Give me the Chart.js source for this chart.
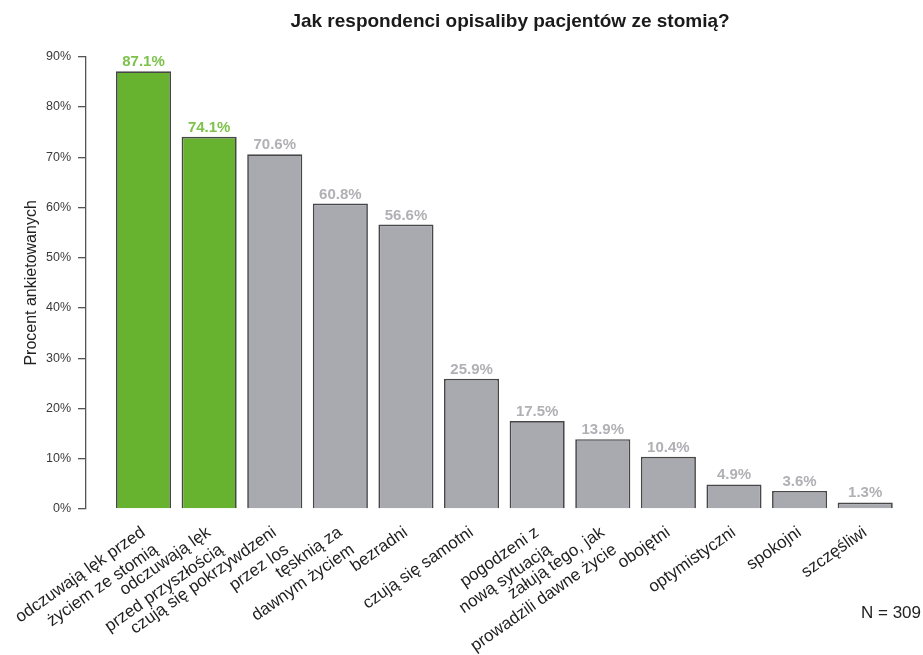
<!DOCTYPE html>
<html>
<head>
<meta charset="utf-8">
<script src="https://cdn.jsdelivr.net/npm/chart.js@4.4.1/dist/chart.umd.min.js"></script>
<style>
    html, body { margin: 0; padding: 0; background: #fff; }
</style>
</head>
<body>
<canvas id="myChart" width="923" height="655"></canvas>
<script>
// dane z wykresu
var categories = [
    ["odczuwają lęk przed", "życiem ze stomią"],
    ["odczuwają lęk", "przed przyszłością"],
    ["czują się pokrzywdzeni", "przez los"],
    ["tęsknią za", "dawnym życiem"],
    "bezradni",
    "czują się samotni",
    ["pogodzeni z", "nową sytuacją"],
    ["żałują tego, jak", "prowadzili dawne życie"],
    "obojętni",
    "optymistyczni",
    "spokojni",
    "szczęśliwi"
];
var values = [87.1, 74.1, 70.6, 60.8, 56.6, 25.9, 17.5, 13.9, 10.4, 4.9, 3.6, 1.3];
var yMax = 90;
var yStep = 10;
var highlighted = 2; // pierwsze dwa słupki na zielono
var sampleSize = 309;

var FONT = '"Liberation Sans", Arial, Helvetica, sans-serif';

var points = [];
for (var i = 0; i < values.length; i++) {
    points.push({x: i, y: values[i]});
}

var bgColor = [];
var lblColor = [];
for (var j = 0; j < values.length; j++) {
    bgColor.push(j < highlighted ? '#67b22f' : '#a9aab0');
    lblColor.push(j < highlighted ? '#7cc24b' : '#b0b0b5');
}

var valueLabels = {
    id: 'valueLabels',
    afterDatasetsDraw: function (chart) {
        var ctx = chart.ctx;
        var meta = chart.getDatasetMeta(0);
        ctx.save();
        ctx.font = 'bold 15px ' + FONT;
        ctx.textAlign = 'center';
        ctx.textBaseline = 'alphabetic';
        meta.data.forEach(function (bar, k) {
            ctx.fillStyle = lblColor[k];
            ctx.fillText(values[k].toFixed(1) + '%', bar.x, bar.y - 5);
        });
        ctx.restore();
    }
};

var sampleNote = {
    id: 'sampleNote',
    afterDraw: function (chart) {
        var ctx = chart.ctx;
        ctx.save();
        ctx.font = '17px ' + FONT;
        ctx.fillStyle = '#222';
        ctx.textAlign = 'right';
        ctx.textBaseline = 'middle';
        ctx.fillText('N = ' + sampleSize, 921, 613);
        ctx.restore();
    }
};

// przesunięcie tytułu nad środek słupków
var titleShift = {
    id: 'titleShift',
    afterLayout: function (chart) {
        if (chart.titleBlock) {
            chart.titleBlock.left += 36;
        }
    }
};

var ctx = document.getElementById("myChart").getContext('2d');
var myChart = new Chart(ctx, {
    type: 'bar',
    data: {
        datasets: [{
            data: points,
            backgroundColor: bgColor,
            borderColor: '#474747',
            borderWidth: 1.7,
            categoryPercentage: 1,
            barPercentage: 0.84
        }]
    },
    plugins: [valueLabels, sampleNote, titleShift],
    options: {
        responsive: false,
        animation: false,
        layout: {padding: {left: 22, right: 25, top: 0, bottom: 0}},
        plugins: {
            legend: {display: false},
            tooltip: {enabled: false},
            title: {
                display: true,
                fullSize: false,
                text: 'Jak respondenci opisaliby pacjentów ze stomią?',
                color: '#1a1a1a',
                font: {family: FONT, size: 19, weight: 'bold'},
                padding: {top: 10, bottom: 24}
            }
        },
        scales: {
            x: {
                type: 'linear',
                min: -0.877,
                max: 11.5,
                offset: false,
                grid: {display: false, offset: false},
                border: {display: false},
                ticks: {
                    stepSize: 1,
                    autoSkip: false,
                    includeBounds: false,
                    minRotation: 35,
                    maxRotation: 35,
                    padding: 5,
                    color: '#1e1e1e',
                    font: {family: FONT, size: 17, lineHeight: 1.25},
                    callback: function (v) {
                        return categories[v] !== undefined ? categories[v] : '';
                    }
                },
                afterFit: function (scale) {
                    scale.height = 146;
                }
            },
            y: {
                min: 0,
                max: yMax,
                grid: {drawOnChartArea: false, drawTicks: true, tickLength: 8, color: '#555', lineWidth: 1.3},
                border: {display: true, color: '#555', width: 1.3},
                ticks: {
                    stepSize: yStep,
                    padding: 7,
                    color: '#3a3a3a',
                    font: {family: FONT, size: 12.5},
                    callback: function (v) { return v + '%'; }
                },
                title: {
                    display: true,
                    text: 'Procent ankietowanych',
                    color: '#222',
                    font: {family: FONT, size: 16},
                    padding: 0
                },
                afterFit: function (scale) {
                    scale.width = 64;
                }
            }
        }
    }
});
</script>
</body>
</html>
